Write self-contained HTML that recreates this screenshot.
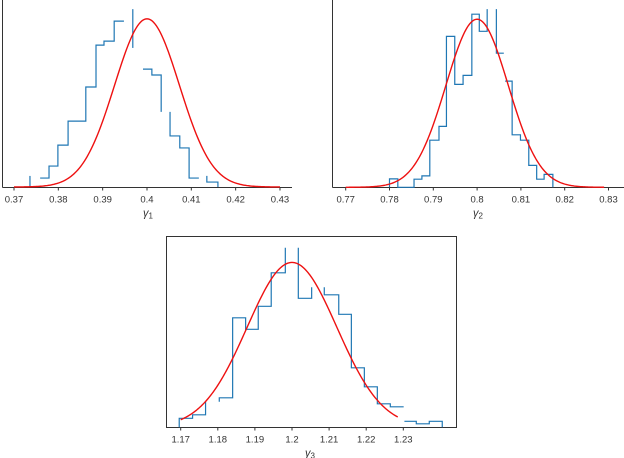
<!DOCTYPE html>
<html><head><meta charset="utf-8">
<style>
html,body{margin:0;padding:0;background:#fff;width:624px;height:458px;overflow:hidden}
svg{display:block}
text{font-family:"Liberation Sans",sans-serif;fill:#333}
</style></head>
<body>
<svg id="chart" width="624" height="458" viewBox="0 0 624 458" xmlns="http://www.w3.org/2000/svg"></svg>
<script>
// ---- Panel 1 (gamma_1) data ----
const ticks1 = [0.37,0.38,0.39,0.40,0.41,0.42,0.43];
const tickLabels1 = ["0.37","0.38","0.39","0.4","0.41","0.42","0.43"];
const fit1 = {mu:0.4, sigma:0.0073, from:0.37, to:0.43};
const hist1 = [
 [[0.3736,0],[0.3736,3.6]],
 [[0.3759,2.9],[0.3779,2.9],[0.3779,6.8],[0.3799,6.8],[0.3799,13.6],[0.3822,13.6],[0.3822,21.4],[0.3862,21.4],[0.3862,32.5],[0.3885,32.5],[0.3885,46.1],[0.3903,46.1],[0.3903,47.4],[0.3926,47.4],[0.3926,53.9],[0.3948,53.9]],
 [[0.3968,57.8],[0.3968,45.2]],
 [[0.3991,38.3],[0.4011,38.3],[0.4011,36.4],[0.4032,36.4],[0.4032,24.4]],
 [[0.4052,24.4],[0.4052,16.6],[0.4074,16.6],[0.4074,12.7],[0.4095,12.7],[0.4095,2.9],[0.4117,2.9]],
 [[0.4135,3.6],[0.4135,1.6],[0.416,1.6],[0.416,0]]
];
// ---- Panel 2 (gamma_2) data ----
const ticks2 = [0.77,0.78,0.79,0.80,0.81,0.82,0.83];
const tickLabels2 = ["0.77","0.78","0.79","0.8","0.81","0.82","0.83"];
const fit2 = {mu:0.8, sigma:0.00712, from:0.77, to:0.829};
const hist2 = [
 [[0.7800,0],[0.7800,2.8],[0.7819,2.8],[0.7819,0],[0.7856,0],[0.7856,2.7],[0.7874,2.7],[0.7874,3.8],[0.7892,3.8],[0.7892,15.7],[0.7913,15.7],[0.7913,20.3],[0.7930,20.3],[0.7930,50.3],[0.7949,50.3],[0.7949,34.3],[0.7968,34.3],[0.7968,37.3],[0.7988,37.3],[0.7988,57.7],[0.8005,57.7],[0.8005,52],[0.8023,52],[0.8023,59.4]],
 [[0.8044,59.4],[0.8044,44.7],[0.8061,44.7]],
 [[0.8064,35.4],[0.8080,35.4],[0.8080,17.5],[0.8099,17.5],[0.8099,15.7],[0.8118,15.7],[0.8118,7.3],[0.8136,7.3],[0.8136,2.7],[0.8153,2.7],[0.8153,4.3],[0.8173,4.3],[0.8173,0]]
];
// ---- Panel 3 (gamma_3) data ----
const ticks3 = [1.17,1.18,1.19,1.20,1.21,1.22,1.23];
const tickLabels3 = ["1.17","1.18","1.19","1.2","1.21","1.22","1.23"];
const fit3 = {mu:1.2, sigma:0.0121, from:1.17, to:1.2285};
const hist3 = [
 [[1.1696,0],[1.1696,1.8],[1.1732,1.8],[1.1732,2.5],[1.1767,2.5],[1.1767,5.1]],
 [[1.1804,5.1],[1.1804,5.9],[1.1840,5.9],[1.1840,21.9],[1.1875,21.9],[1.1875,19.6],[1.1909,19.6],[1.1909,24.2],[1.1944,24.2],[1.1944,30.9],[1.1982,30.9],[1.1982,35.9]],
 [[1.2017,35.9],[1.2017,25.8],[1.2053,25.8],[1.2053,28]],
 [[1.2087,28],[1.2087,26.5],[1.2126,26.5],[1.2126,22.6],[1.2160,22.6],[1.2160,11.9],[1.2195,11.9],[1.2195,8.1],[1.2230,8.1],[1.2230,4.7],[1.2265,4.7],[1.2265,4.1],[1.2301,4.1]],
 [[1.2303,1.2],[1.2335,1.2],[1.2335,0.7],[1.2370,0.7],[1.2370,1.2],[1.2405,1.2],[1.2405,0]]
];

const NS = "http://www.w3.org/2000/svg";
const svg = document.getElementById("chart");
function mk(tag, attrs, parent){
  const e = document.createElementNS(NS, tag);
  for (const k in attrs) e.setAttribute(k, attrs[k]);
  (parent||svg).appendChild(e);
  return e;
}

function panel(cfg){
  const g = mk("g", {});
  
  
  const xs = v => cfg.px0 + (v - cfg.x0) * cfg.pxPerUnit;
  const ys = v => cfg.base - v * cfg.pyPerUnit;
  // frame
  if (cfg.box) {
    const r = mk("rect", {x:cfg.box[0], y:cfg.box[1], width:cfg.box[2]-cfg.box[0], height:cfg.box[3]-cfg.box[1], fill:"none", stroke:"#333", "stroke-width":1}, g);
    
    
  } else {
    const l = mk("line", {x1:cfg.left, y1:0, x2:cfg.left, y2:cfg.axisY, stroke:"#333", "stroke-width":1}, g);
    
    
    const b = mk("line", {x1:cfg.left, y1:cfg.axisY, x2:cfg.right, y2:cfg.axisY, stroke:"#333", "stroke-width":1}, g);
    
    
  }
  // ticks
  cfg.ticks.forEach((t,i)=>{
    const x = xs(t);
    const tk = mk("line", {x1:x, y1:cfg.axisY, x2:x, y2:cfg.axisY+3, stroke:"#333", "stroke-width":1}, g);
    
    
    const tl = mk("text", {x:x, y:cfg.axisY+15, "text-anchor":"middle", "font-size":"9.5"}, g);
    tl.textContent = cfg.labels[i];
    
    
  });
  // axis title
  const tt = mk("text", {x:cfg.titleX, y:cfg.axisY+29, "text-anchor":"middle", "font-size":"11", "font-style":"italic"}, g);
  tt.innerHTML = 'γ<tspan font-size="8" dy="2" font-style="normal">'+cfg.sub+'</tspan>';
  
  
  // histogram
  cfg.hist.forEach(seg=>{
    const d = seg.map((p,i)=>(i?"L":"M")+xs(p[0]).toFixed(2)+","+ys(p[1]).toFixed(2)).join(" ");
    const p = mk("path", {d:d, fill:"none", stroke:"#1f77b4", "stroke-width":1.2}, g);
    
    
  });
  // fitted normal
  const f = cfg.fit, N = 200, pts = [];
  for (let i=0;i<=N;i++){
    const v = f.from + (f.to-f.from)*i/N;
    const dens = Math.exp(-0.5*Math.pow((v-f.mu)/f.sigma,2)) / (f.sigma*Math.sqrt(2*Math.PI));
    pts.push((i?"L":"M")+xs(v).toFixed(2)+","+ys(dens).toFixed(2));
  }
  const c = mk("path", {d:pts.join(" "), fill:"none", stroke:"#ee1111", "stroke-width":1.4}, g);
  
  
}

panel({name:"gamma1-panel", x0:0.37, px0:14, pxPerUnit:4433, base:187, pyPerUnit:3.077,
  left:2.5, right:292, axisY:187.5, ticks:ticks1, labels:tickLabels1, hist:hist1, fit:fit1, titleX:148, sub:"1"});
panel({name:"gamma2-panel", x0:0.77, px0:345.7, pxPerUnit:4380, base:187.3, pyPerUnit:3.0,
  left:332.5, right:624, axisY:187.5, ticks:ticks2, labels:tickLabels2, hist:hist2, fit:fit2, titleX:478, sub:"2"});
panel({name:"gamma3-panel", x0:1.17, px0:180.7, pxPerUnit:3710, base:427.3, pyPerUnit:5.0,
  box:[166.5,236.5,456.5,427.5], axisY:427.5, ticks:ticks3, labels:tickLabels3, hist:hist3, fit:fit3, titleX:310, sub:"3"});
</script>
</body></html>
